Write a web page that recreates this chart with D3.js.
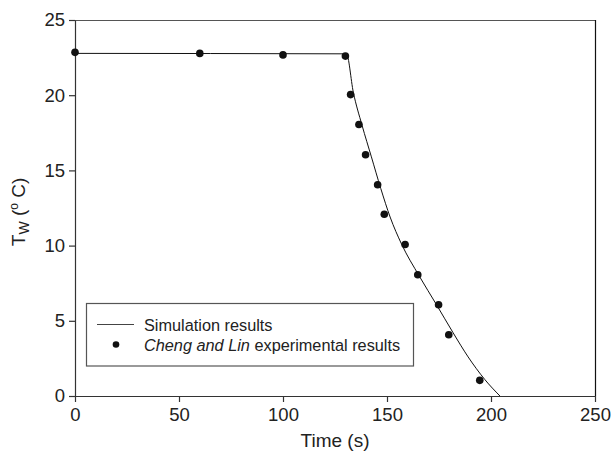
<!DOCTYPE html>
<html>
<head>
<meta charset="utf-8">
<script src="https://cdn.jsdelivr.net/npm/d3@7"></script>
<style>
  html, body { margin: 0; padding: 0; background: #fff; }
  svg { display: block; font-family: "Liberation Sans", Arial, Helvetica, sans-serif; }
</style>
</head>
<body>
<svg id="chart" width="614" height="453"></svg>
<script>
// ---- Data ----
const expTime = [0, 60, 100, 130, 132.5, 136.5, 139.7, 145.5, 148.7, 158.7, 164.8, 174.8, 179.7, 194.6];
const expTemp = [22.85, 22.78, 22.68, 22.6, 20.04, 18.05, 16.04, 14.05, 12.08, 10.07, 8.06, 6.07, 4.07, 1.04];

const simTime = [0, 130.5, 133.8, 138, 142.5, 147, 151.5, 157, 165.4, 173.8, 181.8, 189, 197, 204.3];
const simTemp = [22.78, 22.75, 20.2, 18.0, 15.9, 13.8, 11.9, 10.1, 8.0, 6.07, 4.2, 2.6, 1.1, 0];

const xTicks = [0, 50, 100, 150, 200, 250];
const yTicks = [0, 5, 10, 15, 20, 25];
const xLabel = "Time (s)";
const legendLabels = ["Simulation results", "experimental results"];

// ---- Layout ----
const W = 614, H = 453;
const m = { left: 75, right: 19, top: 20, bottom: 57 };
const svg = d3.select("#chart");

const x = d3.scaleLinear().domain([0, 250]).range([m.left, W - m.right]);
const y = d3.scaleLinear().domain([0, 25]).range([H - m.bottom, m.top]);

const axisColor = "#333";

// Frame (top and right)
svg.append("line")
  .attr("x1", x(0)).attr("x2", x(250))
  .attr("y1", y(25) + 0.5).attr("y2", y(25) + 0.5)
  .attr("stroke", "#555").attr("stroke-width", 1.2);
svg.append("line")
  .attr("x1", x(250) + 0.5).attr("x2", x(250) + 0.5)
  .attr("y1", y(25)).attr("y2", y(0))
  .attr("stroke", "#111").attr("stroke-width", 1.2);

// Axes
const xAxis = d3.axisBottom(x).tickValues(xTicks).tickSize(6).tickPadding(6).tickSizeOuter(0);
const yAxis = d3.axisLeft(y).tickValues(yTicks).tickSize(6).tickPadding(4).tickSizeOuter(0);

const gx = svg.append("g").attr("transform", `translate(0,${y(0)})`).call(xAxis);
const gy = svg.append("g").attr("transform", `translate(${x(0)},0)`).call(yAxis);

[gx, gy].forEach(g => {
  g.select(".domain").attr("stroke", axisColor).attr("stroke-width", 1.2);
  g.selectAll(".tick line").attr("stroke", axisColor).attr("stroke-width", 1.2);
  g.selectAll(".tick text")
    .attr("fill", "#222")
    .style("font-size", "18.5px")
    .style("font-family", "'Liberation Sans', Arial, sans-serif");
});

// Axis labels
svg.append("text")
  .attr("x", (x(0) + x(250)) / 2)
  .attr("y", 447)
  .attr("text-anchor", "middle")
  .attr("fill", "#222")
  .style("font-size", "19px")
  .text(xLabel);

const yl = svg.append("text")
  .attr("transform", `translate(25,${(y(0) + y(25)) / 2 + 4}) rotate(-90)`)
  .attr("text-anchor", "middle")
  .attr("fill", "#222")
  .style("font-size", "19px");
yl.append("tspan").text("T");
yl.append("tspan").attr("dy", 4).style("font-size", "14px").text("W");
yl.append("tspan").attr("dy", -4).text(" (");
yl.append("tspan").attr("dy", -7).style("font-size", "12px").text("o");
yl.append("tspan").attr("dy", 7).text(" C)");

// Simulation line
const simData = simTime.map((t, i) => [t, simTemp[i]]);
svg.append("path")
  .datum(simData)
  .attr("fill", "none")
  .attr("stroke", "#111")
  .attr("stroke-width", 1)
  .attr("d", d3.line().curve(d3.curveMonotoneX).x(d => x(d[0])).y(d => y(d[1])));

// Experimental points
const expData = expTime.map((t, i) => [t, expTemp[i]]);
svg.append("g").selectAll("circle")
  .data(expData)
  .join("circle")
  .attr("cx", d => x(d[0]))
  .attr("cy", d => y(d[1]))
  .attr("r", 3.8)
  .attr("fill", "#111");

// Legend
const lg = svg.append("g");
lg.append("rect")
  .attr("x", 86.5).attr("y", 303.5)
  .attr("width", 327).attr("height", 62.5)
  .attr("fill", "#fff")
  .attr("stroke", "#555").attr("stroke-width", 1.2);
lg.append("line")
  .attr("x1", 97).attr("x2", 134)
  .attr("y1", 324.5).attr("y2", 324.5)
  .attr("stroke", "#444").attr("stroke-width", 1);
lg.append("text")
  .attr("x", 144).attr("y", 330.5)
  .attr("fill", "#222")
  .style("font-size", "16.3px")
  .text(legendLabels[0]);
lg.append("circle")
  .attr("cx", 116).attr("cy", 344.5).attr("r", 3.3).attr("fill", "#111");
const t2 = lg.append("text")
  .attr("x", 144).attr("y", 350.5)
  .attr("fill", "#222")
  .style("font-size", "16.3px");
t2.append("tspan").style("font-style", "italic").text("Cheng and Lin");
t2.append("tspan").text(" " + legendLabels[1]);
</script>
</body>
</html>
